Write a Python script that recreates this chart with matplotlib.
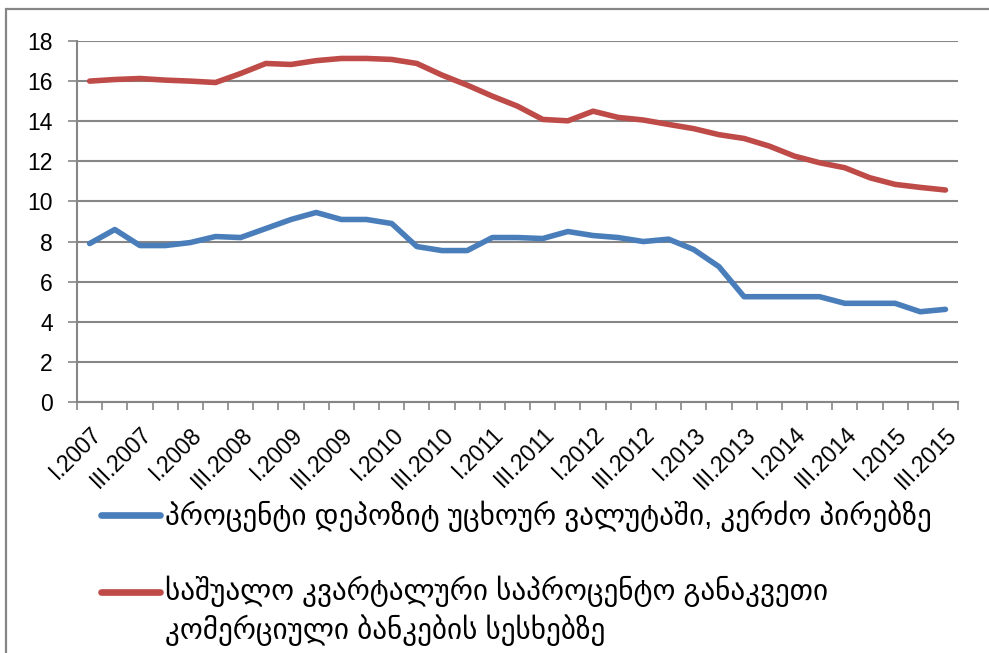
import matplotlib
matplotlib.use("Agg")
import matplotlib.pyplot as plt
from matplotlib.patches import Rectangle

plt.rcParams['font.family'] = ['Liberation Sans', 'DejaVu Sans']

# quarterly periods I.2007 .. III.2015
years = list(range(2007, 2016))
romans = ["I", "II", "III", "IV"]
quarters = [f"{q}.{y}" for y in years for q in romans][:35]

# interest on deposits in foreign currency, individuals (%)
deposit_fx = [7.9, 8.6, 7.8, 7.8, 7.95, 8.25, 8.2, 8.65, 9.1, 9.45,
              9.1, 9.1, 8.9, 7.75, 7.55, 7.55, 8.2, 8.2, 8.15, 8.5,
              8.3, 8.2, 8.0, 8.12, 7.6, 6.75, 5.25, 5.25, 5.25, 5.25,
              4.92, 4.92, 4.92, 4.5, 4.62]

# average quarterly interest rate on commercial bank loans (%)
loan_rate = [16.0, 16.08, 16.13, 16.05, 16.0, 15.93, 16.38, 16.88, 16.83, 17.02,
             17.13, 17.13, 17.08, 16.88, 16.3, 15.8, 15.25, 14.75, 14.09, 14.02,
             14.5, 14.19, 14.06, 13.84, 13.63, 13.33, 13.14, 12.76, 12.26, 11.93,
             11.68, 11.18, 10.85, 10.7, 10.57]

label_blue = "პროცენტი დეპოზიტ უცხოურ ვალუტაში, კერძო პირებზე"
label_red = "საშუალო კვარტალური საპროცენტო განაკვეთი\nკომერციული ბანკების სესხებზე"

blue = "#4A7EBB"
red = "#BE4B48"
grid_col = "#868686"

fig = plt.figure(figsize=(9.89, 6.53), dpi=100)
ax = fig.add_axes([0.0779, 0.3844, 0.8908, 0.5528])

x = list(range(len(quarters)))
ax.plot(x, deposit_fx, color=blue, lw=4.0, label=label_blue, solid_capstyle='round')
ax.plot(x, loan_rate, color=red, lw=4.0, label=label_red, solid_capstyle='round')

ax.set_xlim(-0.5, len(quarters) - 0.5)
ax.set_ylim(0, 18)
ax.set_yticks(range(0, 19, 2))
ax.yaxis.grid(True, color=grid_col, lw=1.5)
ax.set_axisbelow(True)
ax.tick_params(axis='y', labelsize=16.5, length=6.5, width=1.2, color=grid_col, pad=11)

# tick marks at category boundaries, labels on every second quarter
ax.set_xticks([i - 0.5 for i in range(len(quarters) + 1)])
ax.set_xticklabels([])
ax.set_xticks(x[::2], minor=True)
ax.set_xticklabels(quarters[::2], minor=True, rotation=45, ha='right',
                   rotation_mode='anchor', fontsize=16.5)
ax.tick_params(axis='x', which='major', length=6, width=1.2, color=grid_col, direction='out')
ax.tick_params(axis='x', which='minor', length=0, pad=15)

for s in ['top', 'right']:
    ax.spines[s].set_visible(False)
for s in ['left', 'bottom']:
    ax.spines[s].set_color(grid_col)
    ax.spines[s].set_linewidth(1.5)

leg = fig.legend(loc='upper left', bbox_to_anchor=(0.076, 0.274), frameon=False,
                 fontsize=21, handlelength=2.0, handletextpad=0.17, labelspacing=1.5)
for t in leg.get_texts():
    t.set_linespacing(1.3)
for line in leg.get_lines():
    line.set_linewidth(4.8)
# red handle sits on the first line of its two-line label
red_handle = leg.get_lines()[1]
red_handle.set_ydata([y + 14 for y in red_handle.get_ydata()])

fig.patches.append(Rectangle((6 / 989, -0.1), 1.2, 1 - 9 / 653 + 0.1,
                             transform=fig.transFigure, fill=False,
                             edgecolor=grid_col, lw=1.6))

fig.savefig("out.png", dpi=100)
